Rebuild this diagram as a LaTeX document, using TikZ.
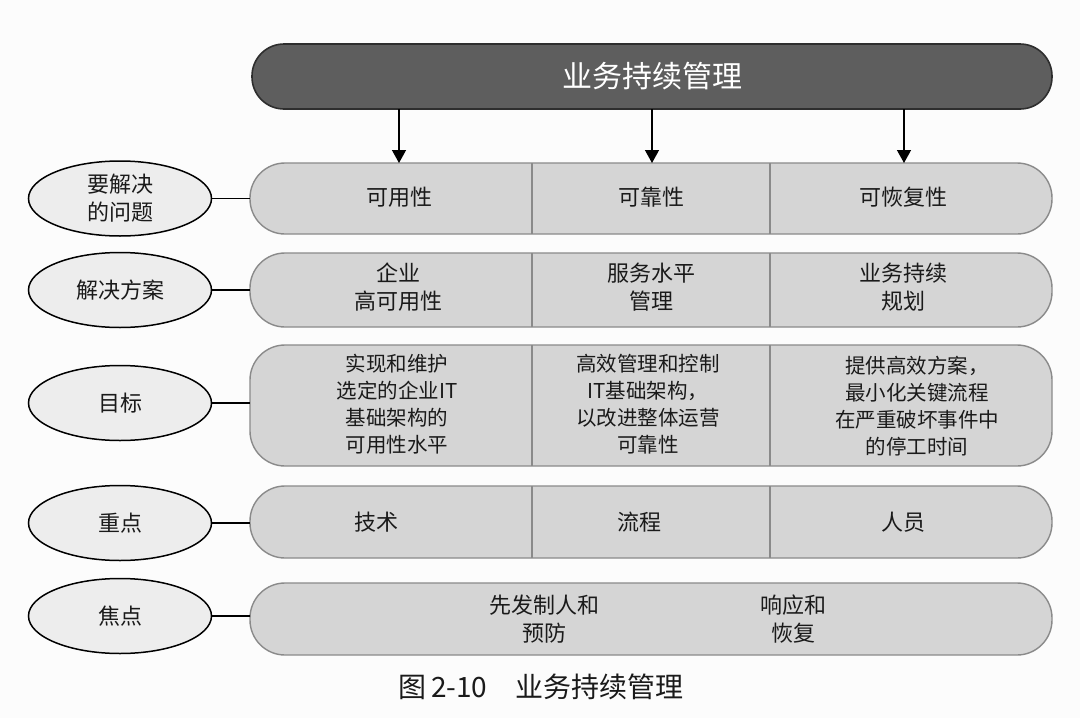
\documentclass[tikz,border=0pt]{standalone}
\usepackage{fontspec}
\setmainfont{Noto Sans CJK SC}
\usetikzlibrary{shapes.geometric,arrows.meta}
\definecolor{barfill}{HTML}{D5D5D5}
\definecolor{barline}{HTML}{8A8A8A}
\definecolor{titlefill}{HTML}{5E5E5E}
\definecolor{titleline}{HTML}{2E2E2E}
\definecolor{ellfill}{HTML}{EDEDED}
\definecolor{ink}{HTML}{1A1A1A}
\definecolor{bg}{HTML}{FCFCFC}
\begin{document}
\begin{tikzpicture}[x=1pt,y=-1pt,
  bar/.style={draw=barline, fill=barfill, line width=1.4pt, rounded corners=35pt,
    minimum width=802pt, inner sep=0pt, outer sep=0pt},
  titlebar/.style={draw=titleline, fill=titlefill, line width=1.6pt, rounded corners=32pt,
    minimum width=800pt, minimum height=65pt, inner sep=0pt, outer sep=0pt,
    text=white, font=\fontsize{30}{34}\selectfont},
  lbl/.style={ellipse, draw=black, fill=ellfill, line width=1.5pt, minimum width=183pt,
    minimum height=75pt, inner sep=0pt, outer sep=0pt, align=center, text=ink,
    font=\fontsize{22}{28}\selectfont},
  cell/.style={align=center, text=ink, inner sep=0pt, font=\fontsize{22}{28}\selectfont},
  smallcell/.style={align=center, text=ink, inner sep=0pt, font=\fontsize{20.5}{27}\selectfont},
  divider/.style={draw=barline, line width=1.4pt},
  link/.style={draw=black, line width=1.4pt},
  arr/.style={draw=black, line width=1.4pt, -{Triangle[width=14pt,length=13pt]}}
]
\fill[bg] (0,0) rectangle (1080,718);
\useasboundingbox (0,0) rectangle (1080,718);

% column references
\coordinate (a1) at (399,0);
\coordinate (a2) at (652,0);
\coordinate (a3) at (904,0);
\coordinate (d1) at (532,0);
\coordinate (d2) at (770,0);

% title
\node[titlebar] (title) at (652,76.5) {业务持续管理};

% rows
\node[bar, minimum height=71pt] (row1) at (651,198.5) {};
\node[bar, minimum height=74pt] (row2) at (651,290) {};
\node[bar, minimum height=121pt] (row3) at (651,405.5) {};
\node[bar, minimum height=72pt] (row4) at (651,522) {};
\node[bar, minimum height=72pt] (row5) at (651,619) {};

% dividers
\foreach \r in {row1,row2,row3,row4}{
  \draw[divider] (\r.north -| d1) -- (\r.south -| d1);
  \draw[divider] (\r.north -| d2) -- (\r.south -| d2);
}

% arrows
\draw[arr] (title.south -| a1) -- (row1.north -| a1);
\draw[arr] (title.south -| a2) -- (row1.north -| a2);
\draw[arr] (title.south -| a3) -- (row1.north -| a3);

% labels (ellipses)
\node[lbl] (e1) at (120,198.5) {要解决\\的问题};
\node[lbl] (e2) at (120,290) {解决方案};
\node[lbl] (e3) at (120,403) {目标};
\node[lbl] (e4) at (120,523) {重点};
\node[lbl] (e5) at (120,616) {焦点};

\draw[link] (e1.east) -- (e1.east -| row1.west);
\draw[link] (e2.east) -- (e2.east -| row2.west);
\draw[link] (e3.east) -- (e3.east -| row3.west);
\draw[link] (e4.east) -- (e4.east -| row4.west);
\draw[link] (e5.east) -- (e5.east -| row5.west);

% row 1
\node[cell] (r1c1) at (399,197) {可用性};
\node[cell] (r1c2) at (651,197) {可靠性};
\node[cell] (r1c3) at (903,197) {可恢复性};

% row 2
\node[cell] (r2c1) at (398,287) {企业\\高可用性};
\node[cell] (r2c2) at (651,287) {服务水平\\管理};
\node[cell] (r2c3) at (903,287) {业务持续\\规划};

% row 3
\node[smallcell] (r3c1) at (397,404) {实现和维护\\选定的企业IT\\基础架构的\\可用性水平};
\node[smallcell] (r3c2) at (648,404) {高效管理和控制\\IT基础架构，\\以改进整体运营\\可靠性};
\node[smallcell] (r3c3) at (917,406) {提供高效方案，\\最小化关键流程\\在严重破坏事件中\\的停工时间};

% row 4
\node[cell] (r4c1) at (376,522) {技术};
\node[cell] (r4c2) at (639,522) {流程};
\node[cell] (r4c3) at (903,522) {人员};

% row 5
\node[cell] (r5c1) at (544,619) {先发制人和\\预防};
\node[cell] (r5c2) at (793,619) {响应和\\恢复};

% caption
\node[text=ink, inner sep=0pt, font=\fontsize{28}{32}\selectfont] (cap) at (541,687) {图\,2-10\quad 业务持续管理};
\end{tikzpicture}
\end{document}
